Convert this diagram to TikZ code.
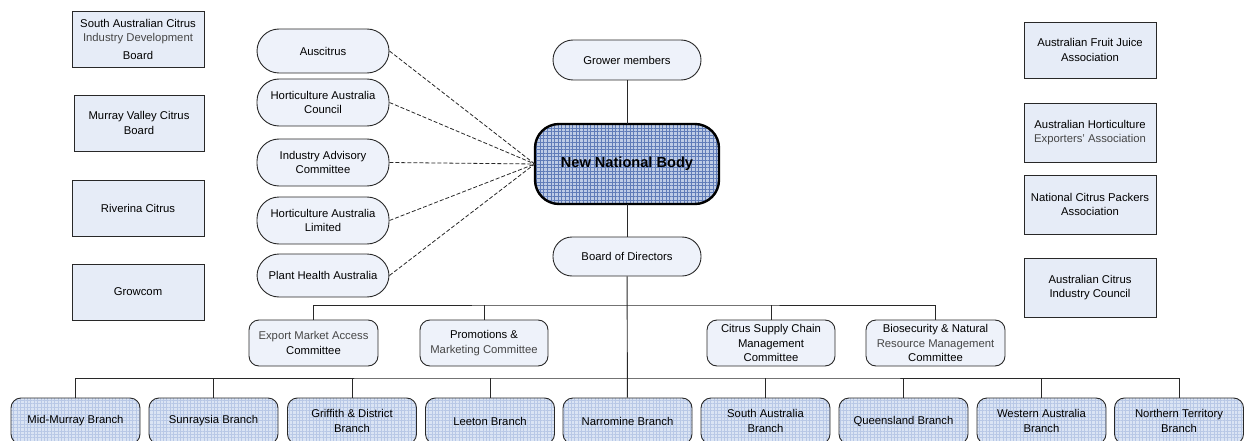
\documentclass[tikz,border=0pt]{standalone}
\usepackage{fontspec}
\setmainfont{Liberation Sans}
\usepackage{tikz}
\usetikzlibrary{patterns.meta}
\usepackage{xcolor}

\definecolor{boxfill}{RGB}{230,236,247}
\definecolor{pillfill}{RGB}{238,242,250}
\definecolor{nnbfill}{RGB}{190,204,230}
\definecolor{nnbgrid}{RGB}{96,124,184}
\definecolor{brfill}{RGB}{218,228,244}
\definecolor{brgrid}{RGB}{184,200,230}
\definecolor{edge}{RGB}{40,40,40}
\definecolor{txtgrey}{RGB}{70,70,70}

\tikzset{
    base/.style={draw=edge, line width=0.9pt, align=center, inner sep=0pt,
        font=\fontsize{11.3}{14.5}\selectfont},
    sqbox/.style={base, fill=boxfill, minimum width=132pt, minimum height=56pt},
    pill/.style={base, fill=pillfill, minimum width=132pt, rounded corners=22pt},
    combox/.style={base, fill=pillfill, minimum height=46pt, rounded corners=10pt},
    branch/.style={base, minimum width=129pt, minimum height=46pt, rounded corners=10pt,
        preaction={fill=brfill},
        pattern={Hatch[angle=0,distance=3.4pt,line width=0.4pt]}, pattern color=brgrid},
    link/.style={edge, line width=0.9pt},
    dlink/.style={edge, line width=0.8pt, dash pattern=on 4pt off 2pt}
}

\begin{document}
\begin{tikzpicture}[x=1pt,y=-1pt]
\useasboundingbox (0,0) rectangle (1247,441);

    % left column
    \node[sqbox] (sacidb) at (138,39) {South Australian Citrus\\\textcolor{txtgrey}{Industry Development}\\[3pt]Board};
    \node[sqbox, minimum width=130pt] (mvcb) at (139,123) {Murray Valley Citrus\\Board};
    \node[sqbox] (riv) at (138,208) {Riverina Citrus};
    \node[sqbox] (grow) at (138,292) {Growcom};

    % advisory bodies
    \node[pill, minimum height=44pt] (ausc) at (323,51) {Auscitrus};
    \node[pill, minimum height=47pt] (hac) at (323,102.5) {Horticulture Australia\\Council};
    \node[pill, minimum height=47pt] (iac) at (323,162.5) {Industry Advisory\\Committee};
    \node[pill, minimum height=47pt] (hal) at (323,220.5) {Horticulture Australia\\Limited};
    \node[pill, minimum height=43pt] (pha) at (323,275.5) {Plant Health Australia};

    % centre
    \node[pill, minimum width=148pt, minimum height=40pt, rounded corners=20pt] (grower) at (627,60) {Grower members};
    \node[base, line width=2.4pt, draw=black, minimum width=184pt, minimum height=80pt,
        rounded corners=24pt, preaction={fill=nnbfill},
        pattern={Hatch[angle=0,distance=3.6pt,line width=0.5pt]}, pattern color=nnbgrid,
        font=\fontsize{14.6}{17}\selectfont\bfseries] (nnb) at (627,164) {New National Body};
    \node[pill, minimum width=148pt, minimum height=39pt, rounded corners=19pt] (bod) at (627,256.5) {Board of Directors};

    % right column
    \node[sqbox] (afja) at (1090,50) {Australian Fruit Juice\\Association};
    \node[sqbox, minimum height=59pt] (ahea) at (1090,132.5) {Australian Horticulture\\\textcolor{txtgrey}{Exporters' Association}};
    \node[sqbox, minimum height=59pt] (ncpa) at (1090,204.5) {National Citrus Packers\\Association};
    \node[sqbox, minimum height=59pt] (acic) at (1090,287.5) {Australian Citrus\\Industry Council};

    % committees
    \node[combox, minimum width=129pt] (ema) at (313.5,343) {\textcolor{txtgrey}{Export Market Access}\\Committee};
    \node[combox, minimum width=128pt] (pmc) at (484,343) {Promotions \&\\\textcolor{txtgrey}{Marketing Committee}};
    \node[combox, minimum width=128pt] (cscm) at (771,343) {Citrus Supply Chain\\Management\\Committee};
    \node[combox, minimum width=139pt] (bnrm) at (935.5,343) {Biosecurity \& Natural\\\textcolor{txtgrey}{Resource Management}\\Committee};

    % branches
    \node[branch] (mm) at (75.5,421) {Mid-Murray Branch};
    \node[branch] (sun) at (213.5,421) {Sunraysia Branch};
    \node[branch] (grif) at (352,421) {Griffith \& District\\Branch};
    \node[branch] (leet) at (490,421) {Leeton Branch};
    \node[branch] (narr) at (627.5,421) {Narromine Branch};
    \node[branch] (sa) at (765.5,421) {South Australia\\Branch};
    \node[branch] (qld) at (903.5,421) {Queensland Branch};
    \node[branch] (wa) at (1041.5,421) {Western Australia\\Branch};
    \node[branch] (nt) at (1179,421) {Northern Territory\\Branch};

    % connectors
    \coordinate (cbar) at (627,305);
    \coordinate (bbar) at (627,378);
    \draw[link] (grower) -- (nnb);
    \draw[link] (nnb) -- (bod);
    \draw[link] (bod) -- (narr);
    \draw[link] (ema.north) |- (cbar) -| (bnrm.north);
    \foreach \c in {pmc,cscm}
        \draw[link] (\c.north) -- (\c.north |- cbar);
    \draw[link] (mm.north) |- (bbar) -| (nt.north);
    \foreach \b in {sun,grif,leet,sa,qld,wa}
        \draw[link] (\b.north) -- (\b.north |- bbar);

    \foreach \a in {ausc,hac,iac,hal,pha}
        \draw[dlink] (\a.east) -- (nnb.west);
\end{tikzpicture}
\end{document}
